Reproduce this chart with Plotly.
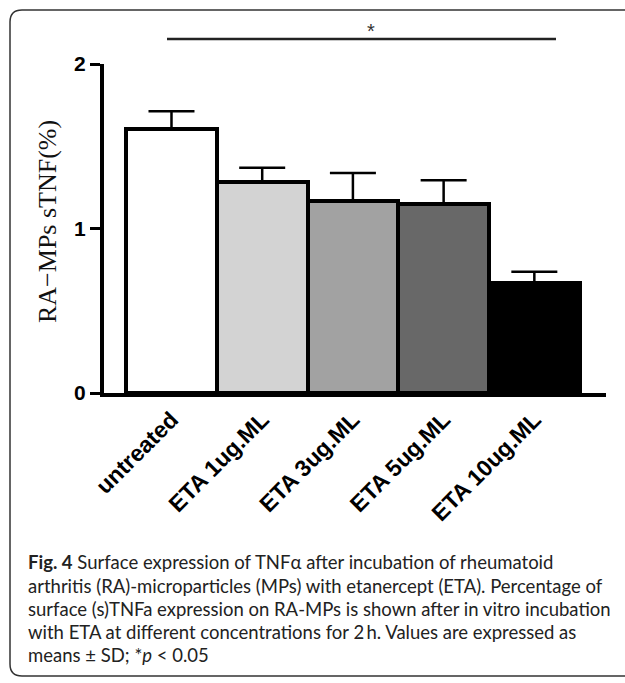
import plotly.graph_objects as go

categories = ["untreated", "ETA 1ug.ML", "ETA 3ug.ML", "ETA 5ug.ML", "ETA 10ug.ML"]
means = [1.605, 1.28, 1.17, 1.148, 0.669]
sds = [0.108, 0.09, 0.167, 0.145, 0.068]
bar_colors = ["#ffffff", "#d3d3d3", "#a2a2a2", "#686868", "#000000"]
ytick_vals = [0, 1, 2]
ytick_text = ["0", "1", "2"]
y_title = "RA\u2212MPs sTNF(%)"
caption_lines = [
    "<b>Fig. 4</b> Surface expression of TNF\u03b1 after incubation of rheumatoid",
    "arthritis (RA)-microparticles (MPs) with etanercept (ETA). Percentage of",
    "surface (s)TNFa expression on RA-MPs is shown after in vitro incubation",
    "with ETA at different concentrations for 2\u2009h. Values are expressed as",
    "means \u00b1 SD; *<i>p</i> < 0.05",
]

W, H = 625, 683
L, R, T, B = 104, 19, 64, 290
PW, PH = W - L - R, H - T - B


def px(xp):
    return (xp - L) / PW


def py(yp):
    return (H - B - yp) / PH


fig = go.Figure()
fig.add_trace(go.Bar(
    x=categories, y=means,
    marker=dict(color=bar_colors, line=dict(color="black", width=4)),
    error_y=dict(type="data", array=sds, arrayminus=[0] * len(sds), symmetric=False,
                 color="black", thickness=2.5, width=23),
    width=1.0,
))

shapes = [
    # outer rounded frame
    dict(type="path", xref="paper", yref="paper",
         path=(f"M {px(640)} {py(10)} L {px(22)} {py(10)} "
               f"Q {px(10)} {py(10)} {px(10)} {py(22)} "
               f"L {px(10)} {py(664)} Q {px(10)} {py(676)} {px(22)} {py(676)} "
               f"L {px(640)} {py(676)}"),
         line=dict(color="#333333", width=1.5)),
    # significance line
    dict(type="line", xref="paper", yref="paper",
         x0=px(167), x1=px(556), y0=py(39), y1=py(39),
         line=dict(color="#222222", width=2.5)),
]

annotations = [
    dict(text="*", xref="paper", yref="paper", x=px(371), y=py(31),
         xanchor="center", yanchor="middle",
         showarrow=False, font=dict(family="Liberation Sans, Arial", size=20, color="#333333")),
    dict(text=y_title, xref="paper", yref="paper", x=px(47), y=py(222), textangle=-90,
         xanchor="center", yanchor="middle",
         showarrow=False, font=dict(family="Liberation Serif, Times New Roman", size=26, color="#111111")),
]
cap_y = [562, 586, 609, 632, 655]
for line, yy in zip(caption_lines, cap_y):
    annotations.append(dict(text=line, xref="paper", yref="paper", x=px(26), y=py(yy),
                            xanchor="left", yanchor="middle", showarrow=False,
                            font=dict(family="Lato", size=18.5, color="#222222")))

fig.update_layout(
    width=W, height=H,
    margin=dict(l=L, r=R, t=T, b=B, pad=0),
    paper_bgcolor="white", plot_bgcolor="white",
    bargap=0,
    showlegend=False,
    shapes=shapes,
    annotations=annotations,
    xaxis=dict(range=[-0.744, 4.79], showline=True, linecolor="black", linewidth=4,
               ticks="", tickangle=-45, showgrid=False, zeroline=False,
               tickfont=dict(family="Liberation Sans, Arial", size=23, color="black", weight="bold")),
    yaxis=dict(range=[0, 2], tickvals=ytick_vals, ticktext=ytick_text, showline=True,
               linecolor="black", linewidth=4, ticks="outside", ticklen=10, tickwidth=3,
               tickcolor="black", showgrid=False, zeroline=False, ticklabelstandoff=0,
               tickfont=dict(family="Liberation Sans, Arial", size=21, color="black", weight="bold")),
)

fig.write_html("out.html")
